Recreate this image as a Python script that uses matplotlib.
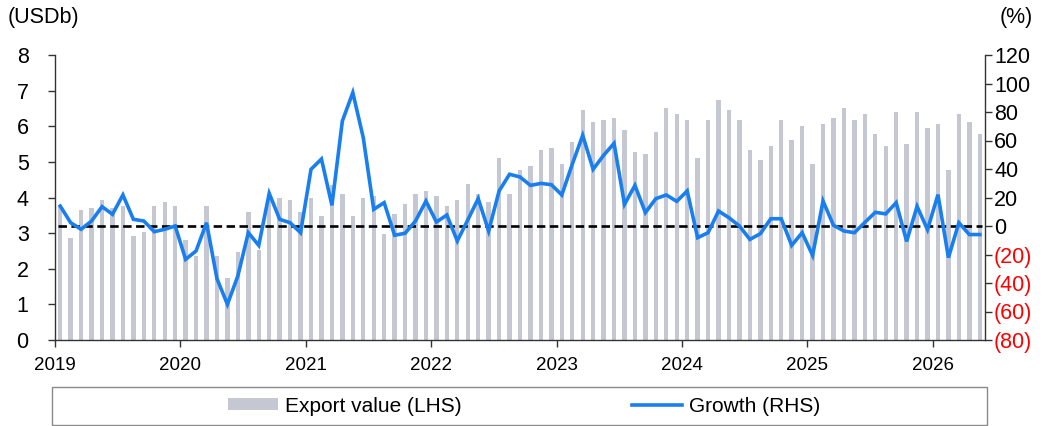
import matplotlib
matplotlib.use("Agg")
import matplotlib.pyplot as plt
from matplotlib import font_manager
from matplotlib.patches import Rectangle, Patch
from matplotlib.lines import Line2D

plt.rcParams['font.family'] = ['Liberation Sans', 'DejaVu Sans']

years = ['2019', '2020', '2021', '2022', '2023', '2024', '2025', '2026']

export_value = [
    3.79, 2.85, 3.65, 3.70, 3.93, 3.70, 3.75, 2.92, 3.03, 3.76, 3.87, 3.76,
    2.81, 2.36, 3.76, 2.36, 1.74, 2.47, 3.59, 2.53, 3.98, 3.98, 3.93, 3.58,
    3.98, 3.48, 4.35, 4.09, 3.48, 3.98, 4.03, 2.98, 3.54, 3.82, 4.09, 4.19,
    4.04, 3.76, 3.93, 4.38, 4.09, 3.86, 5.10, 4.09, 4.77, 4.88, 5.33, 5.38,
    4.94, 5.56, 6.45, 6.12, 6.18, 6.23, 5.89, 5.28, 5.22, 5.84, 6.51, 6.34,
    6.18, 5.11, 6.18, 6.74, 6.45, 6.18, 5.33, 5.05, 5.45, 6.18, 5.61, 6.01,
    4.94, 6.06, 6.23, 6.50, 6.18, 6.33, 5.77, 5.45, 6.39, 5.49, 6.39, 5.94,
    6.05, 4.77, 6.33, 6.11, 5.77,
]

growth = [
    14.0, 2.3, -2.3, 3.5, 13.6, 8.2, 21.8, 4.7, 3.5, -4.0, -2.3, 0.0,
    -23.4, -17.5, 2.3, -37.0, -55.0, -35.0, -4.7, -13.6, 22.9, 4.7, 2.3, -4.7,
    39.8, 47.0, 14.5, 73.7, 93.6, 62.0, 11.7, 16.4, -6.5, -5.1, 3.5, 17.5,
    2.8, 7.7, -10.5, 4.2, 19.2, -3.5, 24.6, 36.3, 34.4, 28.5, 29.9, 29.0,
    21.8, 43.3, 63.6, 39.8, 49.6, 58.0, 15.2, 28.5, 9.4, 19.2, 21.8, 17.3,
    24.6, -8.2, -4.7, 10.5, 5.8, 0.0, -9.4, -5.4, 5.1, 5.1, -13.6, -4.7,
    -20.6, 17.5, 0.5, -3.5, -4.7, 2.5, 9.6, 8.5, 16.4, -10.8, 13.8, -2.5,
    22.0, -22.2, 2.3, -6.0, -6.0,
]

left_ticks = [0, 1, 2, 3, 4, 5, 6, 7, 8]
right_ticks = [-80, -60, -40, -20, 0, 20, 40, 60, 80, 100, 120]
right_labels = ['(80)', '(60)', '(40)', '(20)', '0', '20', '40', '60', '80', '100', '120']

bar_color = '#C5C7D3'
line_color = '#1A7FEE'
fs = 15.5

# narrow face for x labels if available
try:
    font_manager.findfont('Liberation Sans Narrow', fallback_to_default=False)
    xfam = ['Liberation Sans Narrow', 'Liberation Sans']
    xfs = 15.5
except Exception:
    xfam = ['Liberation Sans', 'DejaVu Sans']
    xfs = 13.5

W, H = 1046, 426
fig = plt.figure(figsize=(W / 100, H / 100), dpi=100)
ax = fig.add_axes([55 / W, 1 - 340 / H, 930 / W, 285 / H])
ax2 = ax.twinx()

x = list(range(len(export_value)))
ax.bar(x, export_value, width=0.42, color=bar_color, zorder=1)
ax.set_ylim(0, 8)
ax.set_xlim(-0.5, len(export_value) - 0.5)
ax.set_yticks(left_ticks)
ax.set_yticklabels([str(t) for t in left_ticks], fontsize=fs)

ax.set_xticks([-0.5 + 12 * i for i in range(len(years))])
ax.set_xticklabels(years, fontsize=xfs, family=xfam)

ax2.set_ylim(-80, 120)
ax2.set_yticks(right_ticks)
ax2.set_yticklabels(right_labels, fontsize=fs)
for lbl, v in zip(ax2.get_yticklabels(), right_ticks):
    lbl.set_color('red' if v < 0 else 'black')

ax2.axhline(0, xmin=0.003, xmax=0.997, color='black', lw=1.9, dashes=(3.2, 1.7), zorder=2)
ax2.plot(x, growth, color=line_color, lw=2.6, zorder=3, solid_joinstyle='miter')

for a in (ax, ax2):
    a.spines['top'].set_visible(False)
    for s in ('left', 'right', 'bottom'):
        a.spines[s].set_color('#333333')
        a.spines[s].set_linewidth(1.0)
ax.spines['right'].set_visible(False)
ax2.spines['left'].set_visible(False)
ax2.spines['bottom'].set_visible(False)

ax.tick_params(axis='y', direction='out', length=5, width=1, color='#333333', pad=14)
ax.tick_params(axis='x', direction='out', length=5, width=1, color='#333333', pad=7)
ax2.tick_params(axis='y', direction='out', length=5, width=1, color='#333333', pad=1.5)

fig.text(8 / W, 1 - 18 / H, '(USDb)', fontsize=fs, ha='left', va='center')
fig.text(1033 / W, 1 - 18 / H, '(%)', fontsize=fs, ha='right', va='center')

# legend box
rect = Rectangle((52 / W, 1 / H), 935 / W, 38 / H, transform=fig.transFigure,
                 fill=False, edgecolor='#8a8a8a', lw=1.0)
fig.patches.append(rect)
handles = [Patch(facecolor=bar_color, edgecolor='none'),
           Line2D([0], [0], color=line_color, lw=2.6)]
fig.legend(handles, ['Export value (LHS)', 'Growth (RHS)'], ncol=2,
           loc='center', bbox_to_anchor=(524 / W, 1 - 406 / H), frameon=False,
           fontsize=15, handlelength=2.4, handleheight=0.5, handletextpad=0.33,
           columnspacing=8.2)

fig.savefig('out.png', dpi=100)
